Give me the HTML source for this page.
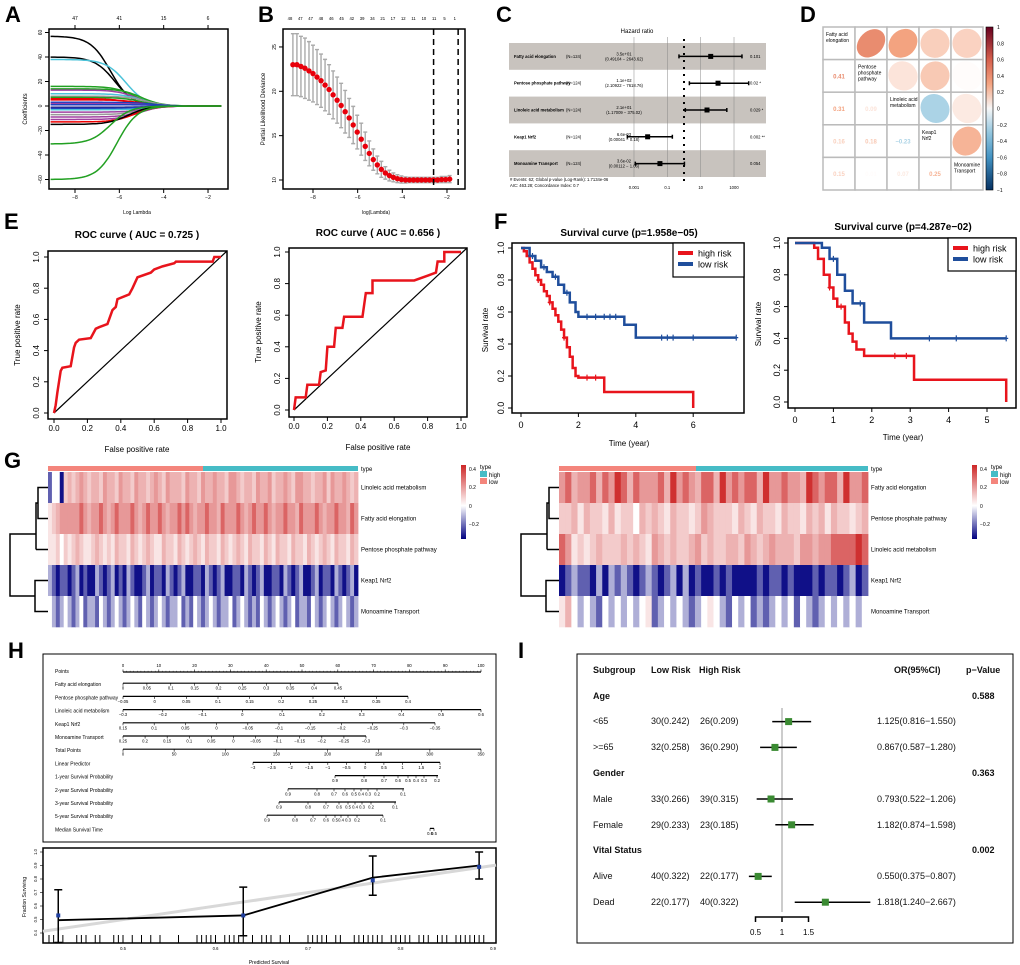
<!DOCTYPE html>
<html><head><meta charset="utf-8"><style>
body{margin:0;background:#fff}
svg{display:block}
text{font-family:"Liberation Sans",sans-serif}
.pl{font-size:22px;font-weight:bold}
.t6{font-size:6px}
.t5{font-size:5px}
.t4{font-size:4.2px}
.t8{font-size:8px}
.t9{font-size:9px}
.ti{font-size:10px;font-weight:bold}
</style></head><body>
<svg id="s" xmlns="http://www.w3.org/2000/svg" width="1020" height="965">
<rect x="0" y="0" width="1020" height="965" fill="#fff"/>
<text class="pl" x="5" y="22">A</text>
<text class="pl" x="258" y="22">B</text>
<text class="pl" x="496" y="22">C</text>
<text class="pl" x="800" y="22">D</text>
<text class="pl" x="4" y="229">E</text>
<text class="pl" x="494" y="229">F</text>
<text class="pl" x="4" y="468">G</text>
<text class="pl" x="8" y="658">H</text>
<text class="pl" x="518" y="658">I</text>

<rect x="49" y="29" width="179" height="160" fill="none" stroke="#000" stroke-width="1.5"/>
<text class="t5" x="137" y="214" text-anchor="middle">Log Lambda</text>
<text class="t6" x="0" y="0" transform="translate(27,109) rotate(-90)" text-anchor="middle">Coefficients</text>
<rect x="283" y="29" width="182" height="160" fill="none" stroke="#000" stroke-width="1.5"/>
<text class="t5" x="376" y="214" text-anchor="middle">log(Lambda)</text>
<text class="t6" x="0" y="0" transform="translate(265,109) rotate(-90)" text-anchor="middle">Partial Likelihood Deviance</text>

<g id="pc">
<text x="637" y="33" font-size="6" text-anchor="middle">Hazard ratio</text>
<text x="510" y="181" class="t4"># Events: 62; Global p-value (Log-Rank): 1.7134e-06</text>
<text x="510" y="187" class="t4">AIC: 463.28; Concordance Index: 0.7</text>
</g>
<g id="pd"></g>

<text class="ti" x="137" y="238" text-anchor="middle">ROC curve ( AUC =  0.725 )</text>
<text class="ti" x="378" y="236" text-anchor="middle">ROC curve ( AUC =  0.656 )</text>
<text class="t8" x="137" y="452" text-anchor="middle">False positive rate</text>
<text class="t8" x="378" y="450" text-anchor="middle">False positive rate</text>
<text class="t8" x="0" y="0" transform="translate(20,335) rotate(-90)" text-anchor="middle">True positive rate</text>
<text class="t8" x="0" y="0" transform="translate(261,332) rotate(-90)" text-anchor="middle">True positive rate</text>
<text class="ti" x="629" y="236" font-size="11" text-anchor="middle">Survival curve (p=1.958e−05)</text>
<text class="ti" x="903" y="230" font-size="11" text-anchor="middle">Survival curve (p=4.287e−02)</text>
<text class="t8" x="629" y="446" text-anchor="middle">Time (year)</text>
<text class="t8" x="903" y="440" text-anchor="middle">Time (year)</text>
<text class="t8" x="0" y="0" transform="translate(488,330) rotate(-90)" text-anchor="middle">Survival rate</text>
<text class="t8" x="0" y="0" transform="translate(761,324) rotate(-90)" text-anchor="middle">Survival rate</text>

<rect x="43" y="654" width="453" height="188" fill="none" stroke="#000" stroke-width="1"/>
<rect x="43" y="848" width="453" height="95" fill="none" stroke="#000" stroke-width="1.5"/>
<text class="t5" x="269" y="964" text-anchor="middle">Predicted Survival</text>
<text class="t5" x="0" y="0" transform="translate(26,897) rotate(-90)" text-anchor="middle">Fraction Surviving</text>

<g>
<rect x="577" y="654" width="436" height="289" fill="none" stroke="#000" stroke-width="1"/>
<g font-size="9" fill="#111" font-weight="bold">
<text x="593" y="673">Subgroup</text>
<text x="651" y="673">Low Risk</text>
<text x="699" y="673">High Risk</text>
<text x="894" y="673">OR(95%CI)</text>
<text x="966" y="673">p−Value</text>
<text x="593" y="699">Age</text>
<text x="972" y="699">0.588</text>
<text x="593" y="776">Gender</text>
<text x="972" y="776">0.363</text>
<text x="593" y="853">Vital Status</text>
<text x="972" y="853">0.002</text>
</g>
<g font-size="9" fill="#111">
<text x="593" y="724">&lt;65</text>
<text x="651" y="724">30(0.242)</text>
<text x="700" y="724">26(0.209)</text>
<text x="877" y="724">1.125(0.816−1.550)</text>
<text x="593" y="750">&gt;=65</text>
<text x="651" y="750">32(0.258)</text>
<text x="700" y="750">36(0.290)</text>
<text x="877" y="750">0.867(0.587−1.280)</text>
<text x="593" y="802">Male</text>
<text x="651" y="802">33(0.266)</text>
<text x="700" y="802">39(0.315)</text>
<text x="877" y="802">0.793(0.522−1.206)</text>
<text x="593" y="828">Female</text>
<text x="651" y="828">29(0.233)</text>
<text x="700" y="828">23(0.185)</text>
<text x="877" y="828">1.182(0.874−1.598)</text>
<text x="593" y="879">Alive</text>
<text x="651" y="879">40(0.322)</text>
<text x="700" y="879">22(0.177)</text>
<text x="877" y="879">0.550(0.375−0.807)</text>
<text x="593" y="905">Dead</text>
<text x="651" y="905">22(0.177)</text>
<text x="700" y="905">40(0.322)</text>
<text x="877" y="905">1.818(1.240−2.667)</text>
</g>
</g>
</svg>
<script>
const svg=document.getElementById('s');
const NS='http://www.w3.org/2000/svg';
function mk(tag,a,p){const e=document.createElementNS(NS,tag);for(const k in a)e.setAttribute(k,a[k]);(p||svg).appendChild(e);return e;}
function tx(x,y,s,a,p){const e=mk('text',Object.assign({x:x,y:y},a||{}),p);e.textContent=s;return e;}

/* ---------- Panel A data ---------- */
const aStarts=[57,40,38,16,14,13,10,8,7,6,5,3,2,1,-1,-2,-3,-5,-7,-9,-11,-13,-15,-31,-60];
const aCenters=[-6.4,-6.2,-5.7,-5.3,-5.0,-5.2,-5.0,-4.8,-5.0,-5.5,-5.0,-4.5,-4.8,-4.2,-4.5,-4.8,-4.6,-4.8,-5.0,-5.0,-5.1,-5.3,-5.6,-6.4,-6.1];
const aColors=['#000','#000','#4cc3d9','#22a022','#22a022','#a040a0','#4cc3d9','#999','#22a022','#e00','#e00','#1f3fbf','#a040a0','#1f3fbf','#202080','#1f3fbf','#4cc3d9','#a040a0','#999','#a040a0','#a040a0','#e00','#000','#22a022','#22a022'];
const aXTicks=[-8,-6,-4,-2];
const aTopLabels=['47','41','15','6'];
const aYTicks=[60,40,20,0,-20,-40,-60];
const xA=v=>75+(v+8)*22.17, yA=v=>106-v*1.225;
aStarts.forEach((s,i)=>{let d='';for(let x=-9.1;x<=-1.35;x+=0.1){const v=s/(1+Math.exp(2.2*(x-aCenters[i])));d+=(d?'L':'M')+xA(x).toFixed(1)+' '+yA(v).toFixed(1);}
const p=mk('path',{d:d,fill:'none',stroke:aColors[i],'stroke-width':1.5});

});
aXTicks.forEach((t,i)=>{const x=xA(t);mk('line',{x1:x,x2:x,y1:189,y2:193,stroke:'#000'});
const e=tx(x,199,String(t).replace('-','−'),{class:'t5','text-anchor':'middle'});


mk('line',{x1:x,x2:x,y1:29,y2:25,stroke:'#000'});
const f=tx(x,20,aTopLabels[i],{class:'t5','text-anchor':'middle'});

});
aYTicks.forEach(t=>{const y=yA(t);mk('line',{x1:49,x2:45,y1:y,y2:y,stroke:'#000'});
const e=tx(0,0,String(t).replace('-','−'),{class:'t5','text-anchor':'middle',transform:`translate(42,${y}) rotate(-90)`});

});

/* ---------- Panel B data ---------- */
const bLogLambda0=-8.9, bStep=0.18;
const bDeviance=[23.0,23.0,22.8,22.6,22.3,22.0,21.6,21.2,20.7,20.2,19.6,19.0,18.4,17.7,17.0,16.2,15.4,14.6,13.8,13.0,12.3,11.7,11.2,10.8,10.5,10.3,10.15,10.05,10.0,10.0,10.0,10.0,10.0,10.0,10.0,10.0,10.0,10.05,10.05,10.1];
const bErr=[3.5,3.5,3.4,3.4,3.3,3.2,3.1,3.0,2.9,2.8,2.7,2.6,2.5,2.4,2.2,2.1,1.9,1.8,1.6,1.4,1.2,1.0,0.9,0.7,0.6,0.5,0.45,0.4,0.35,0.3,0.3,0.3,0.3,0.3,0.3,0.3,0.3,0.35,0.35,0.4];
const bTopLabels=['48','47','47','48','46','45','42','39','34','21','17','12','11','10','11','5','1'];
const bXTicks=[-8,-6,-4,-2];
const bYTicks=[25,20,15,10];
const bCutoffs=[-2.6,-1.5];
const xB=v=>313+(v+8)*22.33, yB=v=>180-(v-10)*8.87;
bDeviance.forEach((d,i)=>{const x=xB(bLogLambda0+i*bStep);
const l=mk('path',{d:`M${x} ${yB(d-bErr[i])}V${yB(d+bErr[i])}M${x-2} ${yB(d-bErr[i])}h4M${x-2} ${yB(d+bErr[i])}h4`,stroke:'#aaa','stroke-width':1.4,fill:'none'});

});
bDeviance.forEach((d,i)=>{const c=mk('circle',{cx:xB(bLogLambda0+i*bStep),cy:yB(d),r:2.7,fill:'#e8000b'});

});
bCutoffs.forEach(v=>{const l=mk('line',{x1:xB(v),x2:xB(v),y1:29,y2:189,stroke:'#000','stroke-width':1.5,'stroke-dasharray':'6 4'});

});
bTopLabels.forEach((s,i)=>{const e=tx(290+i*10.3,20,s,{class:'t4','text-anchor':'middle'});

});
bXTicks.forEach(t=>{const x=xB(t);mk('line',{x1:x,x2:x,y1:189,y2:193,stroke:'#000'});const e=tx(x,199,String(t).replace('-','−'),{class:'t5','text-anchor':'middle'});

});
bYTicks.forEach(t=>{const y=yB(t);mk('line',{x1:283,x2:279,y1:y,y2:y,stroke:'#000'});const e=tx(0,0,String(t),{class:'t5','text-anchor':'middle',transform:`translate(276,${y}) rotate(-90)`});

});

/* ---------- Panel C data ---------- */
const cNames=['Fatty acid elongation','Pentose phosphate pathway','Linoleic acid metabolism','Keap1 Nrf2','Monoamine Transport'];
const cHR=[4.0e1,1.1e2,2.4e1,6.6e-3,3.6e-2];
const cLo=[0.5,2.1,1.2,0.0004,0.0012];
const cHi=[3000,7600,370,0.2,1.06];
const cHRtxt=['3.5e+01','1.1e+02','2.1e+01','6.6e-03','3.6e-02'];
const cCItxt=['(0.49104 − 2643.62)','(2.10922 − 7618.76)','(1.17009 − 375.02)','(0.00041 − 0.18)','(0.00112 − 1.06)'];
const cP=['0.101','0.02 *','0.029 *','0.002 **','0.054'];
const cTicks=[0.001,0.1,10,1000];
const pc=document.getElementById('pc');
const xC=v=>684+Math.log10(v)*16.67;
cNames.forEach((n,i)=>{const y0=43+i*26.8;
if(i%2==0){const r=mk('rect',{x:509,y:y0,width:257,height:26.8,fill:'#c8c3be'},pc);

}});
cTicks.forEach(t=>{const x=xC(t);const l=mk('line',{x1:x,x2:x,y1:37,y2:177,stroke:'#888','stroke-width':0.5},pc);


const e=tx(x,189,String(t),{class:'t4','text-anchor':'middle'},pc);

});
const ref=mk('line',{x1:xC(1),x2:xC(1),y1:39,y2:183,stroke:'#000','stroke-width':2,'stroke-dasharray':'2 5'},pc);


cNames.forEach((n,i)=>{const yc=43+i*26.8+13.4;
let e=tx(514,yc+1.5,n,{class:'t4','font-weight':'bold'},pc);


e=tx(566,yc+1.5,'(N=124)',{class:'t4'},pc);


e=tx(624,yc-1,cHRtxt[i],{class:'t4','text-anchor':'middle'},pc);


e=tx(624,yc+4,cCItxt[i],{class:'t4','text-anchor':'middle'},pc);


e=tx(750,yc+1.5,cP[i],{class:'t4'},pc);


const l=mk('path',{d:`M${xC(cLo[i])} ${yc}H${xC(cHi[i])}M${xC(cLo[i])} ${yc-2}v4M${xC(cHi[i])} ${yc-2}v4`,stroke:'#000','stroke-width':1.5,fill:'none'},pc);


const r=mk('rect',{x:xC(cHR[i])-2.5,y:yc-2.5,width:5,height:5,fill:'#000'},pc);

});

/* ---------- Panel D data ---------- */
const dNames=[['Fatty acid','elongation'],['Pentose','phosphate','pathway'],['Linoleic acid','metabolism'],['Keap1','Nrf2'],['Monoamine','Transport']];
const dCorr=[[1,0.41,0.31,0.16,0.15],[0.41,1,0.09,0.18,0.01],[0.31,0.09,1,-0.23,0.07],[0.16,0.18,-0.23,1,0.25],[0.15,0.01,0.07,0.25,1]];
const dBarTicks=[1,0.8,0.6,0.4,0.2,0,-0.2,-0.4,-0.6,-0.8,-1];
const pd=document.getElementById('pd');
function lerp(a,b,t){return a.map((v,i)=>Math.round(v+(b[i]-v)*t));}
function corrCol(r){const W=[255,255,255],P1=[244,165,130],P2=[214,96,77],P3=[103,0,31],N1=[146,197,222],N2=[67,147,195],N3=[5,48,97];let c;
if(r>=0){c=r<0.3?lerp(W,P1,r/0.3):r<0.6?lerp(P1,P2,(r-0.3)/0.3):lerp(P2,P3,(r-0.6)/0.4);}else{const a=-r;c=a<0.3?lerp(W,N1,a/0.3):a<0.6?lerp(N1,N2,(a-0.3)/0.3):lerp(N2,N3,(a-0.6)/0.4);}return `rgb(${c})`;}
const cw=32,ch=32.6,dx0=823,dy0=27;
for(let i=0;i<5;i++)for(let j=0;j<5;j++){const x=dx0+j*cw,y=dy0+i*ch;
const r=mk('rect',{x:x,y:y,width:cw,height:ch,fill:'#fff',stroke:'#bbb','stroke-width':1.5},pd);


const v=dCorr[i][j];
if(i==j){dNames[i].forEach((s,k)=>{const e=tx(x+3,y+9+k*6,s,{class:'t5'},pd);

});}
else if(j>i){const a=15*Math.sqrt(1+Math.abs(v))/1.1,b=15*Math.sqrt(1-Math.abs(v))/0.95;
const el=mk('ellipse',{cx:x+cw/2,cy:y+ch/2,rx:Math.min(a,16),ry:Math.min(b,15.5),fill:corrCol(v),transform:`rotate(${v>=0?-45:45} ${x+cw/2} ${y+ch/2})`},pd);

}
else{const e=tx(x+cw/2,y+ch/2+2.5,v.toFixed(2).replace('-','−'),{class:'t6','text-anchor':'middle',fill:corrCol(v),'font-weight':'bold'},pd);

}}
const defs=mk('defs',{});
const gr=mk('linearGradient',{id:'cb',x1:0,y1:0,x2:0,y2:1},defs);
[[0,'#67001f'],[0.2,'#d6604d'],[0.35,'#f4a582'],[0.5,'#f7f7f7'],[0.65,'#92c5de'],[0.8,'#4393c3'],[1,'#053061']].forEach(s=>mk('stop',{offset:s[0],'stop-color':s[1]},gr));
const cbar=mk('rect',{x:986,y:27,width:7,height:163,fill:'url(#cb)',stroke:'#000','stroke-width':0.6},pd);


dBarTicks.forEach((t,k)=>{const y=27+k*16.3;const e=tx(997,y+2,String(t).replace('-','−'),{class:'t5'},pd);

});

/* ---------- Panel E data ---------- */
const roc1Fpr=[0,0.01,0.02,0.04,0.05,0.1,0.12,0.13,0.15,0.22,0.25,0.27,0.32,0.35,0.37,0.38,0.45,0.47,0.5,0.58,0.6,0.65,0.72,0.73,0.95,0.96,1];
const roc1Tpr=[0,0.05,0.13,0.27,0.29,0.3,0.42,0.45,0.47,0.48,0.54,0.55,0.57,0.66,0.68,0.73,0.76,0.8,0.87,0.9,0.92,0.94,0.96,0.97,0.97,1,1];
const roc2Fpr=[0,0.01,0.07,0.08,0.15,0.16,0.19,0.2,0.24,0.25,0.29,0.3,0.41,0.43,0.47,0.47,0.72,0.8,0.85,0.86,0.9,0.9,1];
const roc2Tpr=[0,0.08,0.08,0.16,0.16,0.24,0.25,0.4,0.4,0.52,0.52,0.59,0.59,0.74,0.74,0.82,0.82,0.85,0.87,0.94,0.94,1,1];
const rocTicks=[0,0.2,0.4,0.6,0.8,1.0];
function roc(box,x0,x1,y0,y1,fpr,tpr,nm){
const fr=mk('rect',{x:box[0],y:box[1],width:box[2]-box[0],height:box[3]-box[1],fill:'none',stroke:'#000','stroke-width':1.5});


const X=v=>x0+(x1-x0)*v,Y=v=>y0-(y0-y1)*v;
const dg=mk('line',{x1:X(0),y1:Y(0),x2:box[2],y2:box[1],stroke:'#000','stroke-width':1.2});


const p=mk('path',{d:fpr.map((f,i)=>(i?'L':'M')+X(f)+' '+Y(tpr[i])).join(''),fill:'none',stroke:'#e8141c','stroke-width':2.5});


rocTicks.forEach(t=>{mk('line',{x1:X(t),x2:X(t),y1:box[3],y2:box[3]+4,stroke:'#000'});let e=tx(X(t),box[3]+12,t.toFixed(1),{class:'t8','text-anchor':'middle'});


mk('line',{x1:box[0],x2:box[0]-4,y1:Y(t),y2:Y(t),stroke:'#000'});e=tx(0,0,t.toFixed(1),{class:'t8','text-anchor':'middle',transform:`translate(${box[0]-9},${Y(t)}) rotate(-90)`});

});}
roc([48,251,227,419],54,221,413,257,roc1Fpr,roc1Tpr,'roc1');
roc([289,248,467,417],294,461,410,252,roc2Fpr,roc2Tpr,'roc2');

/* ---------- Panel F data ---------- */
const km1HighT=[0,0.1,0.2,0.3,0.4,0.5,0.6,0.7,0.8,0.9,1.0,1.1,1.2,1.3,1.4,1.5,1.6,1.7,1.8,1.9,2.0,2.9,6.0];
const km1HighS=[1,0.98,0.95,0.91,0.87,0.83,0.8,0.77,0.73,0.7,0.66,0.62,0.58,0.54,0.49,0.44,0.38,0.32,0.25,0.2,0.19,0.1,0];
const km1LowT=[0,0.3,0.5,0.7,0.9,1.1,1.3,1.5,1.7,1.9,2.0,3.6,4.0,7.5];
const km1LowS=[1,0.95,0.92,0.88,0.85,0.82,0.77,0.72,0.66,0.6,0.57,0.52,0.44,0.44];
const km1LowCens=[0.4,0.8,1.2,1.6,2.3,2.6,2.9,3.1,3.3,4.9,5.1,5.3,6.0,7.5];
const km1HighCens=[0.6,1.0,1.5,2.3,2.6];
const km2HighT=[0,0.5,0.6,0.75,0.9,1.0,1.1,1.3,1.4,1.5,1.6,1.8,3.1,5.5];
const km2HighS=[1,0.97,0.9,0.8,0.72,0.65,0.6,0.5,0.43,0.38,0.33,0.29,0.14,0];
const km2LowT=[0,0.7,0.9,1.1,1.3,1.5,1.8,2.5,5.5];
const km2LowS=[1,0.97,0.9,0.8,0.7,0.62,0.5,0.4,0.4];
const km2LowCens=[1.0,1.7,3.5,4.2,5.5];
const km2HighCens=[0.9,1.2,2.6,2.9];
const km1XTicks=[0,2,4,6],km2XTicks=[0,1,2,3,4,5],kmYTicks=[0,0.2,0.4,0.6,0.8,1.0];
function km(box,X,Y,xt,series,nm,leg){
const fr=mk('rect',{x:box[0],y:box[1],width:box[2]-box[0],height:box[3]-box[1],fill:'none',stroke:'#000','stroke-width':1.5});


series.forEach(s=>{let d=`M${X(s.t[0])} ${Y(s.s[0])}`;for(let i=1;i<s.t.length;i++)d+=`H${X(s.t[i])}V${Y(s.s[i])}`;
const p=mk('path',{d:d,fill:'none',stroke:s.c,'stroke-width':2.5});


s.cen.forEach(t=>{let v=s.s[0];for(let i=0;i<s.t.length;i++)if(s.t[i]<=t)v=s.s[i];const c=mk('path',{d:`M${X(t)} ${Y(v)-3}v6M${X(t)-2} ${Y(v)}h4`,stroke:s.c,'stroke-width':1.2});

});});
xt.forEach(t=>{mk('line',{x1:X(t),x2:X(t),y1:box[3],y2:box[3]+4,stroke:'#000'});const e=tx(X(t),box[3]+15,String(t),{class:'t9','text-anchor':'middle'});

});
kmYTicks.forEach(t=>{mk('line',{x1:box[0],x2:box[0]-4,y1:Y(t),y2:Y(t),stroke:'#000'});const e=tx(0,0,t.toFixed(1),{class:'t9','text-anchor':'middle',transform:`translate(${box[0]-8},${Y(t)}) rotate(-90)`});

});
const lg=mk('rect',{x:leg[0],y:leg[1],width:leg[2]-leg[0],height:leg[3]-leg[1],fill:'#fff',stroke:'#000','stroke-width':1.2});


series.forEach((s,i)=>{const y=leg[1]+10+i*11;const l=mk('line',{x1:leg[0]+5,x2:leg[0]+20,y1:y,y2:y,stroke:s.c,'stroke-width':4});


const e=tx(leg[0]+25,y+3.5,s.label,{class:'t9'});

});}
km([512,243,744,413],t=>521+t*28.7,s=>408-s*160,km1XTicks,[{t:km1HighT,s:km1HighS,cen:km1HighCens,c:'#e8141c',n:'high',label:'high risk'},{t:km1LowT,s:km1LowS,cen:km1LowCens,c:'#1f4e9c',n:'low',label:'low risk'}],'km1',[673,243,744,277]);
km([788,238,1016,408],t=>795+t*38.4,s=>402-s*159,km2XTicks,[{t:km2HighT,s:km2HighS,cen:km2HighCens,c:'#e8141c',n:'high',label:'high risk'},{t:km2LowT,s:km2LowS,cen:km2LowCens,c:'#1f4e9c',n:'low',label:'low risk'}],'km2',[948,238,1016,271]);

/* ---------- Panel G data ---------- */
const hmLevels=[-0.3,-0.2,-0.1,0,0.05,0.1,0.15,0.2,0.3,0.4];
const hm1Rows=['Linoleic acid metabolism','Fatty acid elongation','Pentose phosphate pathway','Keap1 Nrf2','Monoamine Transport'];
const hm1Data=[
'1330565676566576657665766567657666576657667665776566576675667657766566757667656',
'4567777787677876787778767877876778787677877687778767877876778776877787677877687',
'4453545654456545465546545654465546545654655465456546554654655465546545654655465',
'2101101201002101201021001201102101200110210120011021012001102101200120110210120',
'3212321231221321232123213212321223121321232122312321213212321231221321232123212'];
const hm2Rows=['Fatty acid elongation','Pentose phosphate pathway','Linoleic acid metabolism','Keap1 Nrf2','Monoamine Transport'];
const hm2Data=[
'78677868798687778697876886978788697787769878869778',
'55646554645536565465545765554654655465546564655456',
'87454565556565476565567565566576567666577677888898',
'01211020212101210120201001010000101101000101101201',
'46323213232323412323212343213231212323132123232323'];
function hmCol(v){const n=[0,0,128],w=[255,255,255],r=[205,38,38];let c;if(v<0)c=lerp(w,n,Math.min(1,-v/0.32));else c=lerp(w,r,Math.min(1,v/0.42));return `rgb(${c})`;}
function heat(x0,x1,y0,split,rows,data,nm,legX){
const tb1=mk('rect',{x:x0,y:y0-6,width:split-x0,height:5,fill:'#f4857c'});


const tb2=mk('rect',{x:split,y:y0-6,width:x1-split,height:5,fill:'#46bcc6'});


let e=tx(x1+3,y0-1,'type',{class:'t6'});


const rh=31;
data.forEach((s,i)=>{const w=(x1-x0)/s.length;for(let j=0;j<s.length;j++){const r=mk('rect',{x:x0+j*w,y:y0+i*rh,width:w+0.4,height:rh+0.3,fill:hmCol(hmLevels[+s[j]])});

}
e=tx(x1+3,y0+i*rh+rh/2+2,rows[i],{class:'t6'});

});
const yc=k=>y0+k*rh+rh/2;
const dd=mk('path',{d:`M${x0} ${yc(0)}H${x0-10}V${yc(1)}H${x0}M${x0} ${yc(2)}H${x0-12}M${x0-10} ${(yc(0)+yc(1))/2}H${x0-12}V${yc(2)}M${x0} ${yc(3)}H${x0-13}V${yc(4)}H${x0}M${x0-12} ${(yc(1)+yc(2))/2}H${x0-38}V${(yc(3)+yc(4))/2}H${x0-13}`,fill:'none',stroke:'#000','stroke-width':1.5});


const gid=nm+'g';const g=mk('linearGradient',{id:gid,x1:0,y1:0,x2:0,y2:1},defs);
[[0,'#cd2626'],[0.55,'#fff'],[1,'#000080']].forEach(s=>mk('stop',{offset:s[0],'stop-color':s[1]},g));
const cb=mk('rect',{x:legX,y:y0-7,width:5,height:74,fill:`url(#${gid})`});


[['0.4',4],['0.2',22],['0',41],['−0.2',59]].forEach(a=>{e=tx(legX+8,y0-7+a[1]+2,a[0],{class:'t5'});

});
e=tx(legX+19,y0-3,'type',{class:'t6'});


let s1=mk('rect',{x:legX+19,y:y0-1,width:7,height:6,fill:'#46bcc6'});


let s2=mk('rect',{x:legX+19,y:y0+6,width:7,height:6,fill:'#f4857c'});


e=tx(legX+28,y0+5,'high',{class:'t6'});


e=tx(legX+28,y0+12,'low',{class:'t6'});

}
heat(48,358,472,203,hm1Rows,hm1Data,'heatmap1',461);
heat(559,868,472,696,hm2Rows,hm2Data,'heatmap2',972);

/* ---------- Panel H nomogram ---------- */
const nomLabels=['Points','Fatty acid elongation','Pentose phosphate pathway','Linoleic acid metabolism','Keap1 Nrf2','Monoamine Transport','Total Points','Linear Predictor','1-year Survival Probability','2-year Survival Probability','3-year Survival Probability','5-year Survival Probability','Median Survival Time'];
const nomTicks=[
['0','10','20','30','40','50','60','70','80','90','100'],
['0','0.05','0.1','0.15','0.2','0.25','0.3','0.35','0.4','0.45'],
['-0.05','0','0.05','0.1','0.15','0.2','0.25','0.3','0.35','0.4'],
['-0.3','-0.2','-0.1','0','0.1','0.2','0.3','0.4','0.5','0.6'],
['0.15','0.1','0.05','0','-0.05','-0.1','-0.15','-0.2','-0.25','-0.3','-0.35'],
['0.25','0.2','0.15','0.1','0.05','0','-0.05','-0.1','-0.15','-0.2','-0.25','-0.3'],
['0','50','100','150','200','250','300','350'],
['-3','-2.5','-2','-1.5','-1','-0.5','0','0.5','1','1.5','2'],
['0.9','0.8','0.7','0.6','0.5','0.4','0.3','0.2'],
['0.9','0.8','0.7','0.6','0.5','0.4','0.3','0.2','0.1'],
['0.9','0.8','0.7','0.6','0.5','0.4','0.3','0.2','0.1'],
['0.9','0.8','0.7','0.6','0.5','0.4','0.3','0.2','0.1'],
['0.6','0.5']];
const nomSpan=[[123,481],[123,338],[123,408],[123,481],[123,435],[123,366],[123,481],[253,440],[335,438],[288,404],[279,396],[267,383],[430,434]];
const nomProbPos=[null,null,null,null,null,null,null,null,[335,364,384,398,408,416,424,437],[288,317,334,345,354,361,368,377,403],[279,308,326,339,348,355,362,371,395],[267,295,313,326,335,341,348,357,383],null];
nomLabels.forEach((lab,i)=>{const y=672+i*13.2;
let e=tx(55,y+1,lab,{class:'t5'});


const [a,b]=nomSpan[i];const ly=i==0?y:y-2;
const l=mk('line',{x1:a,x2:b,y1:ly,y2:ly,stroke:'#000','stroke-width':1.2});


const tk=nomTicks[i];tk.forEach((s,k)=>{const x=nomProbPos[i]?nomProbPos[i][k]:a+(b-a)*k/(tk.length-1);
mk('line',{x1:x,x2:x,y1:ly,y2:i==0?ly-2.5:ly+2.5,stroke:'#000','stroke-width':0.6});
e=tx(x,i==0?ly-5:ly+6.5,s.replace('-','−'),{class:'t4','text-anchor':'middle'});


if(i==0&&k<tk.length-1){for(let m=1;m<10;m++){const xm=x+(b-a)/10*m/10;mk('line',{x1:xm,x2:xm,y1:ly,y2:ly-1.2,stroke:'#000','stroke-width':0.4});}}});});

/* ---------- Panel H calibration ---------- */
const calPred=[0.43,0.63,0.77,0.885];
const calObs=[0.53,0.53,0.79,0.89];
const calLine=[0.495,0.53,0.81,0.9];
const calLo=[0.33,0.38,0.68,0.80];
const calHi=[0.72,0.74,0.97,1.0];
const calXTicks=[0.5,0.6,0.7,0.8,0.9];
const calYTicks=[0.4,0.5,0.6,0.7,0.8,0.9,1.0];
const calRug=[0.42,0.425,0.43,0.435,0.45,0.455,0.46,0.47,0.475,0.49,0.495,0.5,0.51,0.52,0.53,0.54,0.56,0.58,0.585,0.59,0.595,0.6,0.61,0.615,0.62,0.625,0.63,0.64,0.65,0.655,0.66,0.67,0.68,0.7,0.705,0.71,0.715,0.72,0.73,0.735,0.75,0.755,0.76,0.765,0.77,0.775,0.78,0.79,0.795,0.8,0.805,0.81,0.82,0.825,0.83,0.84,0.845,0.85,0.86,0.865,0.87,0.875,0.88,0.885,0.89];
const xH=v=>123+(v-0.5)*925, yH=v=>852+(1-v)*135;
const diag=mk('line',{x1:43,y1:yH(0.413),x2:496,y2:yH(0.903),stroke:'#d8d8d8','stroke-width':3});


calRug.forEach(v=>{const l=mk('line',{x1:xH(v),x2:xH(v),y1:943,y2:935,stroke:'#000','stroke-width':1});

});
const cl=mk('path',{d:calPred.map((p,i)=>(i?'L':'M')+xH(p)+' '+yH(calLine[i])).join(''),fill:'none',stroke:'#000','stroke-width':1.8});


calPred.forEach((p,i)=>{const x=xH(p);const eb=mk('path',{d:`M${x} ${yH(calLo[i])}V${yH(calHi[i])}M${x-4} ${yH(calLo[i])}h8M${x-4} ${yH(calHi[i])}h8`,stroke:'#000','stroke-width':1.5,fill:'none'});


const r=mk('rect',{x:x-2,y:yH(calObs[i])-2,width:4,height:4,fill:'#1f3f9f'});

});
calXTicks.forEach(t=>{const e=tx(xH(t),950,String(t),{class:'t4','text-anchor':'middle'});

});
calYTicks.forEach(t=>{mk('line',{x1:43,x2:40,y1:yH(t),y2:yH(t),stroke:'#000','stroke-width':0.6});const e=tx(0,0,t.toFixed(1),{class:'t4','text-anchor':'middle',transform:`translate(37,${yH(t)}) rotate(-90)`});

});

/* ---------- Panel I forest ---------- */
const iOR=[1.125,0.867,0.793,1.182,0.550,1.818];
const iLo=[0.816,0.587,0.522,0.874,0.375,1.240];
const iHi=[1.550,1.280,1.206,1.598,0.807,2.667];
const iRowSlot=[2,3,5,6,8,9];
const iTicks=[0.5,1,1.5];
const xI=v=>782+(v-1)*53, yI=k=>670+k*25.8;
const vref=mk('line',{x1:xI(1),x2:xI(1),y1:708,y2:912,stroke:'#bbb','stroke-width':1.5});


iOR.forEach((v,i)=>{const y=yI(iRowSlot[i]);const l=mk('line',{x1:xI(iLo[i]),x2:xI(iHi[i]),y1:y,y2:y,stroke:'#000','stroke-width':1.5});


const r=mk('rect',{x:xI(v)-3.5,y:y-3.5,width:7,height:7,fill:'#3a8a32'});

});
const ax=mk('path',{d:`M${xI(0.5)} 922V917H${xI(1.5)}V922M${xI(1)} 917V922`,stroke:'#000','stroke-width':1.5,fill:'none'});


iTicks.forEach(t=>{const e=tx(xI(t),935,String(t),{'font-size':8,'text-anchor':'middle'});

});
</script>
</body></html>
